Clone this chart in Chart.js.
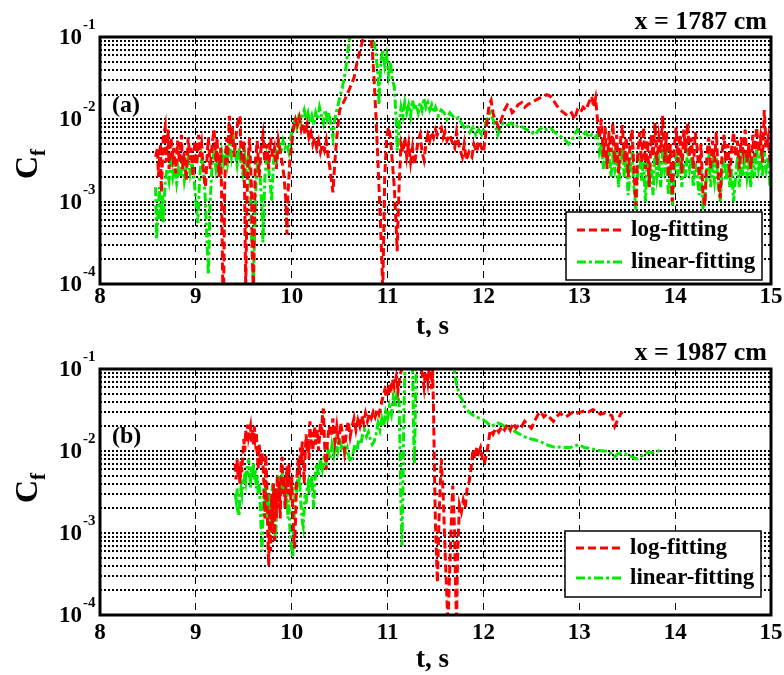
<!DOCTYPE html>
<html>
<head>
<meta charset="utf-8">
<script src="https://cdn.jsdelivr.net/npm/chart.js@4.4.0/dist/chart.umd.min.js"></script>
<style>
body { margin: 0; background: #fff; }
canvas { position: absolute; left: 0; }
#chartA { top: 0; }
#chartB { top: 337px; }
</style>
</head>
<body>
<canvas id="chartA" width="784" height="337"></canvas>
<canvas id="chartB" width="784" height="338"></canvas>
<script>
// axis ticks
var xTickVals = [8, 9, 10, 11, 12, 13, 14, 15];
var yTickExps = [-4, -3, -2, -1];
var seriesNames = ['log-fitting', 'linear-fitting'];

// (a) x = 1787 cm, log-fitting  [t, Cf]
var logFitA = [
  [8.58, 3.5e-3], [8.60, 4.5e-3], [8.61, 2.0e-3], [8.63, 5.0e-3], [8.64, 1.3e-3], [8.66, 6.0e-3], [8.68, 8.0e-3],
  [8.69, 3.0e-3], [8.71, 7.5e-3], [8.72, 2.5e-3], [8.74, 6.0e-3], [8.76, 3.5e-3], [8.77, 4.5e-3], [8.79, 2.2e-3],
  [8.81, 5.5e-3], [8.83, 3.0e-3], [8.85, 6.5e-3], [8.86, 2.5e-3], [8.88, 4.0e-3], [8.90, 1.8e-3], [8.92, 6.0e-3],
  [8.94, 3.2e-3], [8.95, 4.5e-3], [8.97, 2.0e-3], [8.99, 5.5e-3], [9.01, 2.8e-3], [9.03, 6.5e-3], [9.04, 3.5e-3],
  [9.06, 5.0e-3], [9.08, 2.2e-3], [9.10, 1.5e-3], [9.12, 4.0e-3], [9.13, 6.0e-3], [9.15, 2.5e-3], [9.17, 5.0e-3],
  [9.19, 7.5e-3], [9.21, 3.0e-3], [9.22, 6.0e-3], [9.24, 2.0e-3], [9.26, 4.5e-3], [9.27, 1.0e-3], [9.28, 1.0e-4],
  [9.29, 8e-5], [9.30, 1.5e-3], [9.32, 6.0e-3], [9.33, 3.0e-3], [9.35, 1.1e-2], [9.36, 5.0e-3], [9.38, 8.0e-3],
  [9.40, 3.5e-3], [9.42, 6.5e-3], [9.44, 9.5e-3], [9.46, 1.1e-2], [9.47, 4.0e-3], [9.49, 2.5e-3], [9.50, 5.5e-3],
  [9.51, 1.0e-3], [9.52, 9e-5], [9.54, 2.5e-3], [9.56, 6.0e-3], [9.58, 1.5e-3], [9.59, 2e-4], [9.60, 8e-5],
  [9.62, 3.0e-3], [9.64, 5.5e-3], [9.66, 2.0e-3], [9.68, 4.5e-3], [9.70, 6.5e-3], [9.72, 3.0e-3], [9.74, 5.0e-3],
  [9.76, 2.5e-3], [9.78, 6.0e-3], [9.80, 3.5e-3], [9.82, 4.5e-3], [9.84, 2.5e-3], [9.86, 5.5e-3], [9.88, 4.0e-3],
  [9.90, 3.0e-3], [9.92, 2.0e-3], [9.94, 1.0e-3], [9.95, 4e-4], [9.96, 1.2e-3], [9.98, 3.0e-3], [10.00, 5.0e-3],
  [10.02, 8.0e-3], [10.04, 1.0e-2], [10.06, 8.5e-3], [10.08, 1.05e-2], [10.10, 7.5e-3], [10.12, 9.0e-3],
  [10.14, 6.5e-3], [10.16, 8.5e-3], [10.18, 6.0e-3], [10.20, 7.0e-3], [10.22, 5.0e-3], [10.24, 6.0e-3],
  [10.26, 4.5e-3], [10.28, 5.5e-3], [10.30, 4.0e-3], [10.32, 5.0e-3], [10.34, 4.2e-3], [10.36, 5.5e-3],
  [10.38, 3.5e-3], [10.40, 2.5e-3], [10.42, 1.6e-3], [10.43, 1.3e-3], [10.45, 3.0e-3], [10.47, 6.0e-3],
  [10.50, 1.3e-2], [10.55, 1.7e-2], [10.60, 2.3e-2], [10.65, 3.2e-2], [10.68, 4.8e-2], [10.72, 7.5e-2],
  [10.75, 1.0e-1], [10.78, 1.1e-1], [10.82, 1.05e-1], [10.84, 7.0e-2], [10.86, 3.0e-2], [10.88, 1.0e-2],
  [10.90, 3.0e-3], [10.92, 8.0e-4], [10.94, 2.0e-4], [10.95, 8e-5], [10.97, 2.0e-3], [10.99, 6.0e-3],
  [11.01, 8.0e-3], [11.03, 6.0e-3], [11.05, 3.0e-3], [11.07, 1.5e-3], [11.09, 5e-4], [11.10, 2.5e-4],
  [11.12, 1.5e-3], [11.14, 5.0e-3], [11.16, 4.0e-3], [11.18, 6.0e-3], [11.20, 3.5e-3], [11.22, 5.0e-3],
  [11.24, 3.0e-3], [11.26, 4.5e-3], [11.28, 2.8e-3], [11.30, 4.0e-3], [11.32, 5.5e-3], [11.34, 6.5e-3],
  [11.36, 4.0e-3], [11.38, 3.2e-3], [11.40, 5.0e-3], [11.42, 6.5e-3], [11.44, 5.5e-3], [11.46, 7.0e-3],
  [11.48, 6.0e-3], [11.50, 7.5e-3], [11.52, 6.5e-3], [11.54, 7.5e-3], [11.56, 8.0e-3], [11.58, 6.0e-3],
  [11.60, 7.0e-3], [11.62, 5.5e-3], [11.65, 6.5e-3], [11.68, 5.0e-3], [11.70, 4.5e-3], [11.72, 7.0e-3],
  [11.75, 4.5e-3], [11.78, 3.5e-3], [11.80, 5.0e-3], [11.82, 3.2e-3], [11.85, 4.0e-3], [11.88, 3.5e-3],
  [11.90, 5.0e-3], [11.93, 4.0e-3], [11.95, 5.5e-3], [11.98, 4.5e-3], [12.00, 4.0e-3], [12.02, 6.0e-3],
  [12.04, 1.0e-2], [12.06, 1.5e-2], [12.08, 1.7e-2], [12.10, 1.2e-2], [12.12, 1.0e-2], [12.14, 9.0e-3],
  [12.16, 8.0e-3], [12.18, 9.5e-3], [12.20, 1.1e-2], [12.22, 1.3e-2], [12.25, 1.5e-2], [12.28, 1.4e-2],
  [12.30, 1.2e-2], [12.33, 1.3e-2], [12.36, 1.5e-2], [12.40, 1.6e-2], [12.43, 1.4e-2], [12.46, 1.5e-2],
  [12.50, 1.6e-2], [12.54, 1.7e-2], [12.58, 1.8e-2], [12.62, 1.9e-2], [12.66, 2.0e-2], [12.70, 1.9e-2],
  [12.73, 1.7e-2], [12.76, 1.5e-2], [12.80, 1.3e-2], [12.84, 1.2e-2], [12.88, 1.1e-2], [12.92, 1.2e-2],
  [12.95, 1.0e-2], [12.98, 1.3e-2], [13.01, 1.2e-2], [13.04, 1.4e-2], [13.07, 1.3e-2], [13.10, 1.6e-2],
  [13.13, 1.9e-2], [13.15, 1.4e-2], [13.17, 1.8e-2], [13.19, 1.0e-2], [13.21, 6.0e-3], [13.23, 1.0e-2],
  [13.25, 3.5e-3], [13.27, 8.0e-3], [13.29, 2.5e-3], [13.31, 7.0e-3], [13.33, 4.0e-3], [13.35, 9.0e-3],
  [13.37, 3.0e-3], [13.39, 6.5e-3], [13.41, 2.2e-3], [13.43, 5.5e-3], [13.45, 8.5e-3], [13.47, 3.0e-3],
  [13.49, 6.0e-3], [13.51, 2.0e-3], [13.53, 5.0e-3], [13.55, 7.5e-3], [13.57, 2.5e-3], [13.59, 9e-4],
  [13.61, 4.0e-3], [13.63, 7.0e-3], [13.65, 3.0e-3], [13.67, 8.0e-3], [13.69, 2.5e-3], [13.71, 5.5e-3],
  [13.73, 1.5e-3], [13.75, 6.5e-3], [13.77, 3.5e-3], [13.79, 9.0e-3], [13.81, 2.8e-3], [13.83, 6.0e-3],
  [13.85, 4.0e-3], [13.87, 1.1e-2], [13.89, 3.0e-3], [13.91, 7.0e-3], [13.93, 2.0e-3], [13.95, 5.0e-3],
  [13.97, 1.0e-3], [13.99, 4.5e-3], [14.01, 8.0e-3], [14.03, 3.0e-3], [14.05, 6.5e-3], [14.07, 2.2e-3],
  [14.09, 7.5e-3], [14.11, 4.0e-3], [14.13, 9.0e-3], [14.15, 3.5e-3], [14.17, 6.0e-3], [14.19, 2.5e-3],
  [14.21, 7.0e-3], [14.23, 4.5e-3], [14.25, 2.0e-3], [14.27, 5.0e-3], [14.29, 1.2e-3], [14.31, 9e-4],
  [14.33, 3.5e-3], [14.35, 6.0e-3], [14.37, 2.5e-3], [14.39, 5.5e-3], [14.41, 3.0e-3], [14.43, 7.0e-3],
  [14.45, 2.0e-3], [14.47, 1.1e-3], [14.49, 4.0e-3], [14.51, 6.5e-3], [14.53, 3.0e-3], [14.55, 5.0e-3],
  [14.57, 2.0e-3], [14.59, 4.5e-3], [14.61, 7.0e-3], [14.63, 3.5e-3], [14.65, 5.5e-3], [14.67, 2.5e-3],
  [14.69, 6.0e-3], [14.71, 4.0e-3], [14.73, 7.5e-3], [14.75, 3.0e-3], [14.77, 5.0e-3], [14.79, 2.5e-3],
  [14.81, 6.5e-3], [14.83, 3.5e-3], [14.85, 8.0e-3], [14.87, 4.0e-3], [14.89, 6.0e-3], [14.91, 3.0e-3],
  [14.93, 1.3e-2], [14.95, 4.5e-3], [14.97, 6.0e-3], [14.99, 3.0e-3], [15.00, 4.0e-3]
];

// (a) linear-fitting
var linFitA = [
  [8.58, 1.5e-3], [8.59, 3.5e-4], [8.61, 8.0e-4], [8.62, 1.5e-3], [8.63, 6.0e-4], [8.65, 1.2e-3], [8.66, 5.5e-4],
  [8.68, 1.8e-3], [8.70, 2.5e-3], [8.72, 1.8e-3], [8.74, 3.0e-3], [8.76, 2.0e-3], [8.78, 2.8e-3], [8.80, 1.7e-3],
  [8.82, 2.5e-3], [8.84, 2.0e-3], [8.86, 3.2e-3], [8.88, 1.8e-3], [8.90, 2.5e-3], [8.92, 3.5e-3], [8.94, 2.2e-3],
  [8.96, 3.0e-3], [8.98, 2.0e-3], [9.00, 1.0e-3], [9.02, 5.5e-4], [9.04, 2.0e-3], [9.06, 3.5e-3], [9.08, 2.5e-3],
  [9.10, 1.0e-3], [9.12, 2.5e-4], [9.13, 1.3e-4], [9.15, 1.0e-3], [9.17, 3.0e-3], [9.19, 4.0e-3], [9.21, 2.5e-3],
  [9.23, 3.5e-3], [9.25, 2.0e-3], [9.27, 4.0e-3], [9.29, 3.0e-3], [9.31, 4.5e-3], [9.33, 3.0e-3], [9.35, 5.0e-3],
  [9.37, 3.5e-3], [9.39, 5.5e-3], [9.41, 4.0e-3], [9.43, 2.8e-3], [9.45, 4.5e-3], [9.47, 3.0e-3], [9.49, 2.2e-3],
  [9.51, 3.5e-3], [9.53, 2.0e-3], [9.55, 4.0e-3], [9.57, 1.5e-3], [9.58, 4e-4], [9.60, 1.0e-4], [9.61, 3e-4],
  [9.63, 2.0e-3], [9.65, 3.5e-3], [9.67, 2.0e-3], [9.69, 8e-4], [9.70, 3.2e-4], [9.72, 2.0e-3], [9.74, 3.5e-3],
  [9.76, 2.5e-3], [9.78, 1.5e-3], [9.79, 1.0e-3], [9.81, 3.0e-3], [9.83, 4.5e-3], [9.85, 3.5e-3], [9.87, 5.0e-3],
  [9.89, 4.0e-3], [9.91, 5.5e-3], [9.93, 4.5e-3], [9.95, 5.0e-3], [9.97, 4.0e-3], [9.99, 6.0e-3], [10.01, 8.0e-3],
  [10.03, 9.5e-3], [10.05, 8.0e-3], [10.07, 1.05e-2], [10.09, 9.0e-3], [10.11, 1.1e-2], [10.13, 1.3e-2],
  [10.15, 1.0e-2], [10.17, 1.2e-2], [10.19, 9.0e-3], [10.21, 1.1e-2], [10.23, 8.5e-3], [10.25, 1.2e-2],
  [10.27, 1.0e-2], [10.29, 1.4e-2], [10.31, 1.1e-2], [10.33, 9.0e-3], [10.35, 1.3e-2], [10.37, 1.0e-2],
  [10.39, 1.2e-2], [10.41, 8.0e-3], [10.43, 6.0e-3], [10.45, 1.0e-2], [10.47, 1.3e-2], [10.50, 1.8e-2],
  [10.53, 2.5e-2], [10.56, 3.8e-2], [10.58, 6.0e-2], [10.60, 9.0e-2], [10.62, 1.2e-1], [10.70, 1.3e-1],
  [10.80, 1.2e-1], [10.84, 1.1e-1], [10.86, 8.5e-2], [10.88, 6.0e-2], [10.90, 3.5e-2], [10.91, 1.5e-2],
  [10.93, 5.0e-2], [10.95, 7.0e-2], [10.97, 4.5e-2], [10.99, 6.0e-2], [11.01, 3.5e-2], [11.03, 5.0e-2],
  [11.05, 3.0e-2], [11.07, 2.5e-2], [11.09, 1.0e-2], [11.10, 4.2e-3], [11.12, 8.0e-3], [11.14, 1.4e-2],
  [11.16, 1.1e-2], [11.18, 1.6e-2], [11.20, 1.2e-2], [11.22, 1.5e-2], [11.24, 1.1e-2], [11.26, 1.7e-2],
  [11.28, 1.3e-2], [11.30, 1.5e-2], [11.32, 1.2e-2], [11.34, 1.6e-2], [11.36, 1.3e-2], [11.38, 1.8e-2],
  [11.40, 1.4e-2], [11.42, 1.6e-2], [11.44, 1.3e-2], [11.46, 1.5e-2], [11.48, 1.2e-2], [11.50, 1.4e-2],
  [11.53, 1.1e-2], [11.56, 1.3e-2], [11.59, 1.2e-2], [11.62, 1.0e-2], [11.65, 1.2e-2], [11.68, 1.1e-2],
  [11.71, 1.0e-2], [11.74, 1.05e-2], [11.77, 9.0e-3], [11.80, 8.0e-3], [11.83, 8.5e-3], [11.86, 7.0e-3],
  [11.89, 8.0e-3], [11.92, 6.5e-3], [11.95, 7.5e-3], [11.98, 6.5e-3], [12.01, 8.0e-3], [12.04, 1.0e-2],
  [12.07, 1.2e-2], [12.10, 1.0e-2], [12.13, 8.0e-3], [12.15, 6.5e-3], [12.18, 8.5e-3], [12.21, 9.0e-3],
  [12.25, 8.5e-3], [12.29, 9.0e-3], [12.33, 8.0e-3], [12.37, 8.5e-3], [12.41, 8.0e-3], [12.45, 7.5e-3],
  [12.50, 7.0e-3], [12.54, 6.5e-3], [12.58, 7.5e-3], [12.62, 8.0e-3], [12.66, 7.5e-3], [12.70, 7.8e-3],
  [12.74, 7.0e-3], [12.78, 6.5e-3], [12.82, 6.0e-3], [12.86, 5.5e-3], [12.89, 5.0e-3], [12.92, 5.5e-3],
  [12.95, 6.5e-3], [12.98, 7.5e-3], [13.01, 6.0e-3], [13.04, 6.5e-3], [13.07, 7.0e-3], [13.10, 6.0e-3],
  [13.13, 6.5e-3], [13.16, 6.0e-3], [13.19, 6.5e-3], [13.21, 4.0e-3], [13.23, 5.0e-3], [13.25, 2.5e-3],
  [13.27, 4.0e-3], [13.29, 3.0e-3], [13.31, 4.5e-3], [13.33, 2.0e-3], [13.35, 3.5e-3], [13.37, 2.5e-3],
  [13.39, 4.0e-3], [13.41, 1.5e-3], [13.43, 3.0e-3], [13.45, 4.5e-3], [13.47, 2.0e-3], [13.49, 3.5e-3],
  [13.51, 1.2e-3], [13.53, 2.5e-3], [13.55, 4.0e-3], [13.57, 1.5e-3], [13.59, 8e-4], [13.61, 2.5e-3],
  [13.63, 4.0e-3], [13.65, 1.8e-3], [13.67, 3.0e-3], [13.69, 1.0e-3], [13.71, 3.5e-3], [13.73, 1.5e-3],
  [13.75, 2.8e-3], [13.77, 1.2e-3], [13.79, 4.0e-3], [13.81, 2.0e-3], [13.83, 3.0e-3], [13.85, 1.5e-3],
  [13.87, 4.5e-3], [13.89, 2.5e-3], [13.91, 3.5e-3], [13.93, 1.2e-3], [13.95, 2.5e-3], [13.97, 9e-4],
  [13.99, 2.0e-3], [14.01, 4.0e-3], [14.03, 2.0e-3], [14.05, 3.5e-3], [14.07, 1.5e-3], [14.09, 3.0e-3],
  [14.11, 2.0e-3], [14.13, 4.5e-3], [14.15, 2.5e-3], [14.17, 3.5e-3], [14.19, 1.5e-3], [14.21, 3.0e-3],
  [14.23, 2.0e-3], [14.25, 1.2e-3], [14.27, 2.5e-3], [14.29, 8e-4], [14.31, 1.0e-3], [14.33, 2.5e-3],
  [14.35, 3.5e-3], [14.37, 1.5e-3], [14.39, 2.8e-3], [14.41, 1.8e-3], [14.43, 3.5e-3], [14.45, 1.5e-3],
  [14.47, 1.0e-3], [14.49, 2.2e-3], [14.51, 3.5e-3], [14.53, 1.8e-3], [14.55, 3.0e-3], [14.57, 1.5e-3],
  [14.59, 2.5e-3], [14.61, 1.0e-3], [14.63, 2.0e-3], [14.65, 3.5e-3], [14.67, 1.5e-3], [14.69, 3.0e-3],
  [14.71, 2.0e-3], [14.73, 4.0e-3], [14.75, 2.0e-3], [14.77, 3.0e-3], [14.79, 1.5e-3], [14.81, 3.5e-3],
  [14.83, 2.0e-3], [14.85, 4.5e-3], [14.87, 2.5e-3], [14.89, 3.5e-3], [14.91, 2.0e-3], [14.93, 4.0e-3],
  [14.95, 2.5e-3], [14.97, 3.5e-3], [14.99, 1.5e-3], [15.00, 2.5e-3]
];

// (b) x = 1987 cm, log-fitting
var logFitB = [
  [9.41, 7.0e-3], [9.42, 4.5e-3], [9.43, 8.0e-3], [9.44, 5.0e-3], [9.45, 6.5e-3], [9.46, 4.0e-3], [9.47, 7.5e-3],
  [9.48, 5.5e-3], [9.49, 9.0e-3], [9.50, 1.4e-2], [9.51, 1.0e-2], [9.52, 1.8e-2], [9.53, 1.3e-2], [9.54, 2.1e-2],
  [9.55, 1.5e-2], [9.57, 2.0e-2], [9.58, 1.3e-2], [9.59, 1.8e-2], [9.60, 1.2e-2], [9.61, 2.0e-2], [9.62, 1.4e-2],
  [9.63, 1.7e-2], [9.64, 1.0e-2], [9.65, 6.0e-3], [9.66, 1.2e-2], [9.67, 9.0e-3], [9.68, 6.5e-3], [9.69, 9.5e-3],
  [9.70, 7.0e-3], [9.71, 4.0e-3], [9.72, 1.5e-3], [9.73, 9.0e-3], [9.74, 4.0e-3], [9.75, 1.0e-3], [9.76, 4.0e-4],
  [9.77, 2.0e-3], [9.78, 6.0e-4], [9.79, 3.0e-3], [9.80, 1.0e-3], [9.81, 4.0e-3], [9.82, 8.0e-4], [9.83, 3.5e-3],
  [9.84, 1.5e-3], [9.85, 5.0e-3], [9.86, 2.0e-3], [9.87, 4.5e-3], [9.88, 1.5e-3], [9.89, 6.0e-3], [9.90, 8.5e-3],
  [9.91, 3.0e-3], [9.92, 5.0e-3], [9.93, 2.0e-3], [9.94, 4.0e-3], [9.95, 6.5e-3], [9.96, 3.0e-3], [9.97, 7.0e-3],
  [9.98, 4.0e-3], [9.99, 2.5e-3], [10.00, 5.0e-3], [10.01, 2.0e-3], [10.02, 9e-4], [10.03, 6.5e-4], [10.04, 1.5e-3],
  [10.05, 4.0e-3], [10.06, 6.0e-3], [10.07, 8.0e-3], [10.08, 5.0e-3], [10.09, 1.1e-2], [10.10, 7.0e-3],
  [10.11, 1.3e-2], [10.12, 8.0e-3], [10.13, 4.0e-3], [10.14, 9.0e-3], [10.15, 1.6e-2], [10.16, 1.0e-2],
  [10.17, 1.4e-2], [10.18, 8.0e-3], [10.19, 2.3e-2], [10.20, 1.2e-2], [10.21, 1.7e-2], [10.22, 1.0e-2],
  [10.23, 1.5e-2], [10.24, 2.0e-2], [10.25, 1.2e-2], [10.27, 1.8e-2], [10.28, 1.0e-2], [10.30, 2.2e-2],
  [10.31, 1.5e-2], [10.32, 2.6e-2], [10.33, 3.3e-2], [10.34, 1.5e-2], [10.35, 8.0e-3], [10.36, 5.9e-3],
  [10.37, 1.2e-2], [10.39, 2.0e-2], [10.41, 1.5e-2], [10.43, 2.5e-2], [10.45, 1.3e-2], [10.47, 2.0e-2],
  [10.49, 1.2e-2], [10.51, 2.2e-2], [10.53, 1.6e-2], [10.55, 1.0e-2], [10.57, 1.7e-2], [10.59, 2.3e-2],
  [10.61, 1.5e-2], [10.63, 2.0e-2], [10.65, 2.5e-2], [10.67, 1.8e-2], [10.69, 2.4e-2], [10.71, 2.0e-2],
  [10.73, 2.7e-2], [10.75, 2.2e-2], [10.77, 2.9e-2], [10.79, 2.3e-2], [10.81, 2.8e-2], [10.83, 2.5e-2],
  [10.85, 3.0e-2], [10.87, 2.6e-2], [10.89, 3.2e-2], [10.91, 2.8e-2], [10.93, 3.5e-2], [10.95, 4.5e-2],
  [10.97, 5.5e-2], [10.99, 4.5e-2], [11.01, 6.5e-2], [11.03, 5.0e-2], [11.05, 7.5e-2], [11.07, 6.0e-2],
  [11.09, 8.0e-2], [11.11, 5.5e-2], [11.13, 8.5e-2], [11.15, 1.0e-1], [11.17, 1.2e-1], [11.25, 1.3e-1],
  [11.33, 1.2e-1], [11.36, 9.0e-2], [11.38, 6.0e-2], [11.40, 1.1e-1], [11.42, 7.0e-2], [11.44, 1.2e-1],
  [11.46, 5.7e-2], [11.47, 1.0e-1], [11.48, 3.0e-2], [11.49, 5.0e-3], [11.50, 1.2e-3], [11.52, 2.5e-4],
  [11.54, 2.0e-3], [11.56, 8.0e-3], [11.58, 3.0e-3], [11.60, 6e-4], [11.62, 1.5e-4], [11.63, 8e-5],
  [11.65, 4e-4], [11.67, 2.0e-3], [11.68, 3.8e-3], [11.70, 1.0e-3], [11.71, 2e-4], [11.72, 8e-5], [11.73, 5e-4],
  [11.75, 2.2e-3], [11.77, 1.8e-3], [11.79, 2.5e-3], [11.81, 2.0e-3], [11.83, 3.5e-3], [11.85, 4.2e-3],
  [11.87, 6.0e-3], [11.89, 1.05e-2], [11.91, 8.0e-3], [11.93, 1.1e-2], [11.95, 9.5e-3], [11.97, 1.1e-2],
  [11.99, 8.0e-3], [12.01, 7.0e-3], [12.03, 9.0e-3], [12.05, 1.2e-2], [12.07, 1.8e-2], [12.10, 1.6e-2],
  [12.13, 1.9e-2], [12.16, 1.7e-2], [12.19, 2.0e-2], [12.22, 1.8e-2], [12.25, 2.1e-2], [12.28, 1.8e-2],
  [12.31, 2.2e-2], [12.34, 1.9e-2], [12.37, 2.1e-2], [12.40, 2.0e-2], [12.43, 2.3e-2], [12.46, 2.1e-2],
  [12.50, 1.9e-2], [12.54, 2.4e-2], [12.57, 2.8e-2], [12.60, 3.0e-2], [12.63, 2.6e-2], [12.66, 2.8e-2],
  [12.70, 2.5e-2], [12.73, 2.3e-2], [12.76, 2.6e-2], [12.80, 2.9e-2], [12.83, 2.7e-2], [12.86, 2.6e-2],
  [12.90, 2.8e-2], [12.94, 3.0e-2], [12.98, 2.9e-2], [13.02, 3.0e-2], [13.06, 3.1e-2], [13.10, 3.0e-2],
  [13.14, 3.2e-2], [13.18, 3.1e-2], [13.22, 2.8e-2], [13.26, 2.9e-2], [13.30, 2.8e-2], [13.34, 2.7e-2],
  [13.37, 2.0e-2], [13.40, 2.4e-2], [13.43, 2.8e-2], [13.45, 3.0e-2]
];

// (b) linear-fitting
var linFitB = [
  [9.41, 3.0e-3], [9.42, 2.5e-3], [9.43, 3.5e-3], [9.44, 2.0e-3], [9.45, 1.6e-3], [9.46, 2.8e-3], [9.47, 3.5e-3],
  [9.48, 3.0e-3], [9.49, 4.5e-3], [9.50, 3.5e-3], [9.51, 5.5e-3], [9.52, 4.5e-3], [9.53, 6.5e-3], [9.54, 5.0e-3],
  [9.55, 8.0e-3], [9.56, 6.0e-3], [9.57, 3.6e-3], [9.58, 6.5e-3], [9.59, 5.0e-3], [9.60, 7.0e-3], [9.61, 4.5e-3],
  [9.62, 6.0e-3], [9.63, 3.5e-3], [9.64, 5.0e-3], [9.65, 3.0e-3], [9.66, 4.0e-3], [9.67, 2.5e-3], [9.68, 1.2e-3],
  [9.69, 6.0e-4], [9.70, 1.5e-3], [9.71, 3.5e-3], [9.72, 2.0e-3], [9.73, 4.5e-3], [9.74, 2.5e-3], [9.75, 1.5e-3],
  [9.76, 3.0e-3], [9.77, 2.0e-3], [9.78, 1.0e-3], [9.79, 2.5e-3], [9.80, 4.0e-3], [9.81, 2.0e-3], [9.82, 1.2e-3],
  [9.83, 8.0e-4], [9.84, 1.5e-3], [9.85, 3.5e-3], [9.86, 5.0e-3], [9.87, 2.5e-3], [9.88, 4.0e-3], [9.89, 3.0e-3],
  [9.90, 5.5e-3], [9.91, 4.0e-3], [9.92, 3.0e-3], [9.93, 4.5e-3], [9.94, 2.0e-3], [9.95, 3.5e-3], [9.96, 1.5e-3],
  [9.97, 2.5e-3], [9.98, 1.2e-3], [9.99, 8e-4], [10.00, 6e-4], [10.01, 5e-4], [10.02, 1.0e-3], [10.03, 2.5e-3],
  [10.04, 4.0e-3], [10.05, 3.0e-3], [10.06, 4.5e-3], [10.07, 3.5e-3], [10.08, 5.0e-3], [10.09, 3.0e-3],
  [10.10, 2.0e-3], [10.11, 1.4e-3], [10.12, 1.2e-3], [10.13, 2.0e-3], [10.14, 3.0e-3], [10.15, 2.2e-3],
  [10.16, 3.5e-3], [10.17, 4.0e-3], [10.18, 3.0e-3], [10.19, 4.5e-3], [10.20, 3.5e-3], [10.21, 5.0e-3],
  [10.22, 3.0e-3], [10.23, 2.0e-3], [10.24, 4.0e-3], [10.25, 5.5e-3], [10.26, 7.0e-3], [10.28, 5.0e-3],
  [10.30, 8.0e-3], [10.32, 6.0e-3], [10.34, 9.0e-3], [10.36, 7.0e-3], [10.38, 1.0e-2], [10.40, 8.0e-3],
  [10.42, 1.2e-2], [10.44, 9.0e-3], [10.46, 1.3e-2], [10.48, 1.0e-2], [10.50, 1.4e-2], [10.52, 1.1e-2],
  [10.54, 1.3e-2], [10.56, 9.5e-3], [10.58, 1.1e-2], [10.60, 8.0e-3], [10.62, 7.4e-3], [10.64, 9.5e-3],
  [10.66, 1.2e-2], [10.68, 1.0e-2], [10.70, 1.4e-2], [10.72, 1.2e-2], [10.74, 1.6e-2], [10.76, 1.8e-2],
  [10.78, 1.5e-2], [10.80, 1.7e-2], [10.82, 1.4e-2], [10.84, 1.2e-2], [10.86, 1.3e-2], [10.88, 1.6e-2],
  [10.90, 2.2e-2], [10.92, 1.8e-2], [10.94, 2.5e-2], [10.96, 2.0e-2], [10.98, 3.0e-2], [11.00, 2.5e-2],
  [11.02, 3.5e-2], [11.04, 2.8e-2], [11.06, 4.5e-2], [11.08, 3.5e-2], [11.10, 5.5e-2], [11.12, 4.0e-2],
  [11.13, 1.0e-2], [11.14, 2.0e-3], [11.15, 7.0e-4], [11.16, 3.0e-3], [11.17, 3.0e-2], [11.18, 9.0e-2],
  [11.20, 1.2e-1], [11.26, 1.3e-1], [11.27, 2.0e-2], [11.28, 7.0e-3], [11.29, 3.0e-2], [11.30, 1.2e-1],
  [11.50, 1.3e-1], [11.68, 1.2e-1], [11.70, 9.0e-2], [11.72, 6.5e-2], [11.75, 4.8e-2], [11.78, 4.2e-2],
  [11.80, 3.5e-2], [11.82, 3.3e-2], [11.85, 3.0e-2], [11.88, 2.8e-2], [11.90, 2.7e-2], [11.93, 2.6e-2],
  [11.96, 2.5e-2], [12.00, 2.4e-2], [12.04, 2.2e-2], [12.08, 2.0e-2], [12.12, 2.1e-2], [12.15, 2.2e-2],
  [12.19, 2.1e-2], [12.22, 2.0e-2], [12.26, 1.9e-2], [12.30, 1.8e-2], [12.34, 1.7e-2], [12.38, 1.6e-2],
  [12.42, 1.5e-2], [12.46, 1.45e-2], [12.50, 1.4e-2], [12.55, 1.35e-2], [12.60, 1.3e-2], [12.65, 1.2e-2],
  [12.70, 1.15e-2], [12.75, 1.1e-2], [12.80, 1.12e-2], [12.85, 1.1e-2], [12.90, 1.1e-2], [12.95, 1.15e-2],
  [13.00, 1.2e-2], [13.05, 1.1e-2], [13.10, 1.08e-2], [13.15, 1.05e-2], [13.20, 1.02e-2], [13.25, 1.0e-2],
  [13.30, 1.0e-2], [13.35, 9.0e-3], [13.37, 8.5e-3], [13.40, 9.2e-3], [13.45, 9.5e-3], [13.50, 9.0e-3],
  [13.55, 8.5e-3], [13.60, 8.0e-3], [13.63, 8.3e-3], [13.67, 9.0e-3], [13.72, 9.7e-3], [13.77, 9.5e-3],
  [13.82, 1.0e-2], [13.87, 1.05e-2]
];

var FONT = "'Liberation Serif', 'Times New Roman', serif";
var RED = '#ff0000';
var GREEN = 'rgb(0,235,0)';

function toPoints(arr) {
    return arr.map(function (p) { return { x: p[0], y: p[1] }; });
}

// minor + major log grid positions
var yGrid = [];
yTickExps.forEach(function (e, i) {
    if (i === yTickExps.length - 1) { yGrid.push(Math.pow(10, e)); return; }
    for (var m = 1; m <= 9; m++) yGrid.push(m * Math.pow(10, e));
});

function decor(opt) {
    return {
        id: 'decor',
        afterDraw: function (chart) {
            var ctx = chart.ctx;
            var a = chart.chartArea;
            var xs = chart.scales.x, ys = chart.scales.y;
            ctx.save();

            // legend box
            var L = opt.legend;
            ctx.setLineDash([]);
            ctx.fillStyle = '#fff';
            ctx.fillRect(L.x, L.y, L.w, L.h);
            ctx.strokeStyle = '#000';
            ctx.lineWidth = 1.5;
            ctx.strokeRect(L.x, L.y, L.w, L.h);
            chart.data.datasets.forEach(function (ds, i) {
                var ly = L.y + L.row0 + i * L.step;
                ctx.strokeStyle = ds.borderColor;
                ctx.lineWidth = ds.borderWidth;
                ctx.setLineDash(ds.borderDash);
                ctx.beginPath();
                ctx.moveTo(L.x + 11, ly);
                ctx.lineTo(L.x + 58, ly);
                ctx.stroke();
                ctx.setLineDash([]);
                ctx.fillStyle = '#000';
                ctx.font = 'bold 23px ' + FONT;
                ctx.textAlign = 'left';
                ctx.textBaseline = 'middle';
                ctx.fillText(ds.label, L.x + 65, ly);
            });

            // frame
            ctx.setLineDash([]);
            ctx.strokeStyle = '#000';
            ctx.lineWidth = 3;
            ctx.strokeRect(a.left, a.top, a.right - a.left, a.bottom - a.top);

            ctx.fillStyle = '#000';
            // y tick labels 10^k
            yTickExps.forEach(function (e) {
                var y = ys.getPixelForValue(Math.pow(10, e));
                ctx.font = 'bold 23px ' + FONT;
                ctx.textAlign = 'right';
                ctx.textBaseline = 'middle';
                ctx.fillText('10', a.left - 18, y + 1);
                ctx.font = 'bold 15px ' + FONT;
                ctx.textAlign = 'left';
                ctx.textBaseline = 'alphabetic';
                ctx.fillText(String(e), a.left - 17, y - 8);
            });

            // x tick labels
            ctx.font = 'bold 23px ' + FONT;
            ctx.textAlign = 'center';
            ctx.textBaseline = 'middle';
            xTickVals.forEach(function (v) {
                ctx.fillText(String(v), xs.getPixelForValue(v), a.bottom + opt.xLabOff);
            });

            // x axis title
            ctx.font = 'bold 27px ' + FONT;
            ctx.fillText('t, s', (a.left + a.right) / 2 - 3, a.bottom + opt.xTitleOff);

            // panel title
            ctx.font = 'bold 26px ' + FONT;
            ctx.textAlign = 'right';
            ctx.fillText(opt.title, 767, opt.titleY);

            // panel letter
            ctx.font = 'bold 24px ' + FONT;
            ctx.textAlign = 'left';
            ctx.fillText(opt.letter, a.left + 12, opt.letterY);

            // y axis title C_f
            ctx.translate(29, opt.yTitleY);
            ctx.rotate(-Math.PI / 2);
            ctx.textAlign = 'left';
            ctx.textBaseline = 'middle';
            ctx.font = 'bold 32px ' + FONT;
            var cw = ctx.measureText('C').width;
            ctx.font = 'bold 21px ' + FONT;
            var fw = ctx.measureText('f').width;
            var x0 = -(cw + fw) / 2;
            ctx.font = 'bold 32px ' + FONT;
            ctx.fillText('C', x0, 0);
            ctx.font = 'bold 21px ' + FONT;
            ctx.fillText('f', x0 + cw, 11);

            ctx.restore();
        }
    };
}

function makeChart(id, logData, linData, pad, opt) {
    return new Chart(document.getElementById(id), {
        type: 'line',
        data: {
            datasets: [{
                label: seriesNames[0],
                data: toPoints(logData),
                borderColor: RED,
                borderWidth: 3,
                borderDash: [8, 4],
                pointRadius: 0,
                tension: 0,
                clip: 0
            }, {
                label: seriesNames[1],
                data: toPoints(linData),
                borderColor: GREEN,
                borderWidth: 3,
                borderDash: [9, 3, 3, 3],
                pointRadius: 0,
                tension: 0,
                clip: 0
            }]
        },
        options: {
            responsive: false,
            animation: false,
            devicePixelRatio: 1,
            layout: { padding: pad },
            plugins: { legend: { display: false }, tooltip: { enabled: false } },
            scales: {
                x: {
                    type: 'linear',
                    min: 8,
                    max: 15,
                    afterBuildTicks: function (s) {
                        s.ticks = xTickVals.map(function (v) { return { value: v }; });
                    },
                    ticks: { display: false },
                    grid: { color: '#000', lineWidth: 1, drawTicks: false },
                    border: { display: false, dash: [7, 6] }
                },
                y: {
                    type: 'logarithmic',
                    min: 1e-4,
                    max: 1e-1,
                    afterBuildTicks: function (s) {
                        s.ticks = yGrid.map(function (v) { return { value: v }; });
                    },
                    ticks: { display: false },
                    grid: { color: '#000', lineWidth: 2, drawTicks: false },
                    border: { display: false, dash: [2, 2] }
                }
            }
        },
        plugins: [decor(opt)]
    });
}

makeChart('chartA', logFitA, linFitA, { left: 100, right: 13, top: 37, bottom: 53 }, {
    title: 'x = 1787 cm', titleY: 22, letter: '(a)', letterY: 106, yTitleY: 164,
    xLabOff: 13, xTitleOff: 43,
    legend: { x: 566, y: 212, w: 196, h: 68, row0: 18, step: 32 }
});
makeChart('chartB', logFitB, linFitB, { left: 100, right: 13, top: 32, bottom: 60 }, {
    title: 'x = 1987 cm', titleY: 16, letter: '(b)', letterY: 100, yTitleY: 151,
    xLabOff: 18, xTitleOff: 45,
    legend: { x: 565, y: 194, w: 196, h: 66, row0: 17, step: 30 }
});
</script>
</body>
</html>
